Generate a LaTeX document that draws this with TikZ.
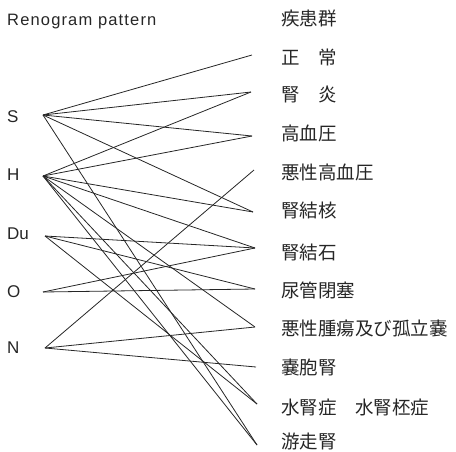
\documentclass[tikz,border=0pt]{standalone}
\usepackage{fontspec}
\setmainfont{Liberation Sans}
\newfontfamily\jpfont{Noto Sans CJK JP}
\begin{document}
\begin{tikzpicture}[x=1pt,y=-1pt,
  conn/.style={line width=0.8pt, draw=black!85},
  latlab/.style={font=\fontsize{17}{17}\selectfont, anchor=west, inner sep=0pt, text=black!85},
  jplab/.style={font=\jpfont\fontsize{18.5}{18.5}\selectfont, anchor=west, inner sep=0pt, text=black!85}]
\useasboundingbox (0,0) rectangle (456,451);
% title
\node[anchor=base west, inner sep=0pt, text=black!85, font=\addfontfeatures{LetterSpace=7}\fontsize{16.5}{16.5}\selectfont] (title) at (7,25) {Renogram pattern};
% left labels
\node[latlab] (lS)  at (7,117) {S};
\node[latlab] (lH)  at (7,175) {H};
\node[latlab] (lDu) at (7,234) {Du};
\node[latlab] (lO)  at (7,292) {O};
\node[latlab] (lN)  at (7,348) {N};
% left end points
\coordinate (pS)  at (43,115);
\coordinate (pH)  at (43,176);
\coordinate (pDu) at (45,236);
\coordinate (pO)  at (43,292);
\coordinate (pN)  at (45,348);
% right labels
\node[jplab] (t0)  at (281,18)  {疾患群};
\node[jplab] (t1)  at (281,57)  {正　常};
\node[jplab] (t2)  at (281,94)  {腎　炎};
\node[jplab] (t3)  at (281,133) {高血圧};
\node[jplab] (t4)  at (281,172) {悪性高血圧};
\node[jplab] (t5)  at (281,210) {腎結核};
\node[jplab] (t6)  at (281,252) {腎結石};
\node[jplab] (t7)  at (281,290) {尿管閉塞};
\node[jplab] (t8)  at (281,328) {悪性腫瘍及び孤立嚢};
\node[jplab] (t9)  at (281,367) {嚢胞腎};
\node[jplab] (t10) at (281,407) {水腎症　水腎柸症};
\node[jplab] (t11) at (281,441) {游走腎};
% right end points
\coordinate (r1)  at (252,55);
\coordinate (r2)  at (251,92);
\coordinate (r3)  at (252,136);
\coordinate (r4)  at (254,170);
\coordinate (r5)  at (253,212);
\coordinate (r6)  at (255,248);
\coordinate (r7)  at (255,289);
\coordinate (r8)  at (255,327);
\coordinate (r9)  at (256,367);
\coordinate (r10) at (257,404);
\coordinate (r11) at (257,445);
% connectors
\foreach \t in {r1,r2,r3,r5,r11} \draw[conn] (pS) -- (\t);
\foreach \t in {r2,r3,r5,r6,r8,r10,r11} \draw[conn] (pH) -- (\t);
\foreach \t in {r6,r7,r10} \draw[conn] (pDu) -- (\t);
\foreach \t in {r6,r7} \draw[conn] (pO) -- (\t);
\foreach \t in {r4,r8,r9} \draw[conn] (pN) -- (\t);
\end{tikzpicture}
\end{document}
